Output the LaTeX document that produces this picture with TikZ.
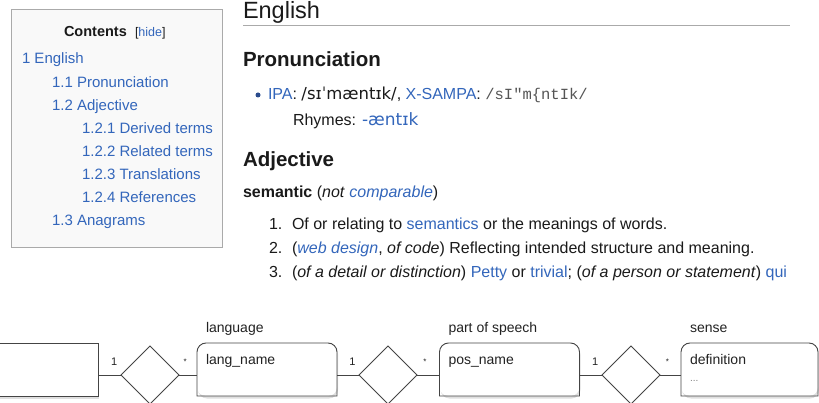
\documentclass[tikz,border=0pt]{standalone}
\usepackage{fontspec}
\setmainfont{Liberation Sans}
\newfontfamily\ipafont{DejaVu Sans}
\newfontfamily\sampafont{Liberation Mono}
\usetikzlibrary{shapes.geometric,shadows,calc}

\definecolor{linkblue}{HTML}{3366BB}
\definecolor{bodytext}{HTML}{1A1A1A}
\definecolor{sampagray}{HTML}{555555}
\definecolor{bulletblue}{HTML}{2A4B8D}
\definecolor{tocborder}{HTML}{AAAAAA}
\definecolor{tocfill}{HTML}{F9F9F9}
\definecolor{ergray}{HTML}{444444}
\definecolor{ertext}{HTML}{222222}

\newcommand{\pxsize}[1]{\fontsize{#1}{#1}\selectfont}
\newcommand{\lnk}[1]{\textcolor{linkblue}{#1}}

\begin{document}
\begin{tikzpicture}[x=1pt,y=-1pt,
    txt/.style={anchor=base west, inner sep=0pt, outer sep=0pt, text=bodytext, font=\pxsize{16}},
    tocline/.style={txt, text=linkblue, font=\pxsize{15}},
    heading/.style={txt, font=\pxsize{20.5}\bfseries},
    erlabel/.style={txt, text=ertext, font=\pxsize{14}},
    card/.style={inner sep=0pt, outer sep=0pt, text=ertext, font=\pxsize{11}},
    conn/.style={draw=ergray, line width=0.9pt},
    entity/.style={minimum width=140pt, minimum height=53pt, inner sep=0pt, outer sep=0pt,
        fill=white, rounded corners=9pt,
        drop shadow={shadow xshift=1pt, shadow yshift=-2.5pt, opacity=.25}},
    entline/.style={draw=ergray, line width=0.9pt},
    relation/.style={diamond, aspect=1, draw=ergray, fill=white, line width=0.9pt,
        minimum size=58pt, inner sep=0pt, outer sep=0pt}]

    \fill[white] (0,0) rectangle (819,403);
    \useasboundingbox (0,0) rectangle (819,403);

    % table of contents
    \node (toc) [draw=tocborder, fill=tocfill, minimum width=211pt, minimum height=238pt, inner sep=0pt] at (116.5,128) {};
    \node (contents) [txt, font=\pxsize{14.5}\bfseries] at (64,37) {Contents};
    \node (hide) [txt, font=\pxsize{12.5}] at (135,37) {[\lnk{hide}]};
    \node (toc1) [tocline] at (22,64) {1 English};
    \node (toc11) [tocline] at (52,87.1) {1.1 Pronunciation};
    \node (toc12) [tocline] at (52,110.2) {1.2 Adjective};
    \node (toc121) [tocline] at (82,133.3) {1.2.1 Derived terms};
    \node (toc122) [tocline] at (82,156.4) {1.2.2 Related terms};
    \node (toc123) [tocline] at (82,179.5) {1.2.3 Translations};
    \node (toc124) [tocline] at (82,202.6) {1.2.4 References};
    \node (toc13) [tocline] at (52,225.7) {1.3 Anagrams};

    % entry
    \node (english) [txt, font=\pxsize{23.5}] at (243,19) {English};
    \draw[tocborder] (243,25) -- (790,25);
    \node (pron) [heading] at (243,67) {Pronunciation};
    \fill[bulletblue] (258,95) circle (2.5);
    \node (ipa) [txt] at (268,99.5) {\lnk{IPA}: {\ipafont\pxsize{16.5}/sɪˈmæntɪk/}, \lnk{X-SAMPA}: {\sampafont\pxsize{15.5}\color{sampagray}/sI"m\{ntIk/}};
    \node (rhymes) [txt] at (293,126) {Rhymes: {\ipafont\pxsize{17}\lnk{-æntɪk}}};
    \node (adj) [heading] at (243,167) {Adjective};
    \node (headword) [txt] at (243,198) {\textbf{semantic} (\textit{not} \lnk{\textit{comparable}})};
    \node (num1) [txt] at (269,230) {1.};
    \node (sense1) [txt] at (292,230) {Of or relating to \lnk{semantics} or the meanings of words.};
    \node (num2) [txt] at (269,254) {2.};
    \node (sense2) [txt] at (292,254) {(\lnk{\textit{web design}}, \textit{of code}) Reflecting intended structure and meaning.};
    \node (num3) [txt] at (269,278) {3.};
    \node (sense3) [txt] at (292,278) {(\textit{of a detail or distinction}) \lnk{Petty} or \lnk{trivial}; (\textit{of a person or statement}) \lnk{qui}};

    % ER diagram
    \node (word) [entity, sharp corners, draw=ergray, line width=0.9pt] at (28,369.5) {};
    \node (lang) [entity] at (267,369.5) {};
    \node (pos) [entity] at (509.5,369.5) {};
    \node (sense) [entity, minimum width=137pt] at (749.5,369.5) {};
    \foreach \e in {lang,pos,sense}
        \draw[entline] (\e.south west) [rounded corners=9pt] -- (\e.north west) -- (\e.north east) [sharp corners] -- (\e.south east) -- cycle;

    \node (rel1) [relation] at (150,375) {};
    \node (rel2) [relation] at (388,375) {};
    \node (rel3) [relation] at (631,375) {};

    \draw[conn] (word.east |- rel1) -- node[card, pos=.7, above=10pt] {1} (rel1.west);
    \draw[conn] (rel1.east) -- node[card, pos=.35, above=11pt, font=\pxsize{8}] {*} (lang.west |- rel1);
    \draw[conn] (lang.east |- rel2) -- node[card, pos=.7, above=10pt] {1} (rel2.west);
    \draw[conn] (rel2.east) -- node[card, pos=.35, above=11pt, font=\pxsize{8}] {*} (pos.west |- rel2);
    \draw[conn] (pos.east |- rel3) -- node[card, pos=.7, above=10pt] {1} (rel3.west);
    \draw[conn] (rel3.east) -- node[card, pos=.35, above=11pt, font=\pxsize{8}] {*} (sense.west |- rel3);

    \node (langlbl) [erlabel] at ($(lang.north west)+(9,-11)$) {language};
    \node (langattr) [erlabel] at ($(lang.north west)+(9,21)$) {lang\_name};
    \node (poslbl) [erlabel] at ($(pos.north west)+(9,-11)$) {part of speech};
    \node (posattr) [erlabel] at ($(pos.north west)+(9,21)$) {pos\_name};
    \node (senselbl) [erlabel] at ($(sense.north west)+(9,-11)$) {sense};
    \node (senseattr) [erlabel] at ($(sense.north west)+(9,21)$) {definition};
    \node (sensemore) [erlabel, text=gray, font=\pxsize{10}] at ($(sense.north west)+(9,38)$) {...};
\end{tikzpicture}
\end{document}
